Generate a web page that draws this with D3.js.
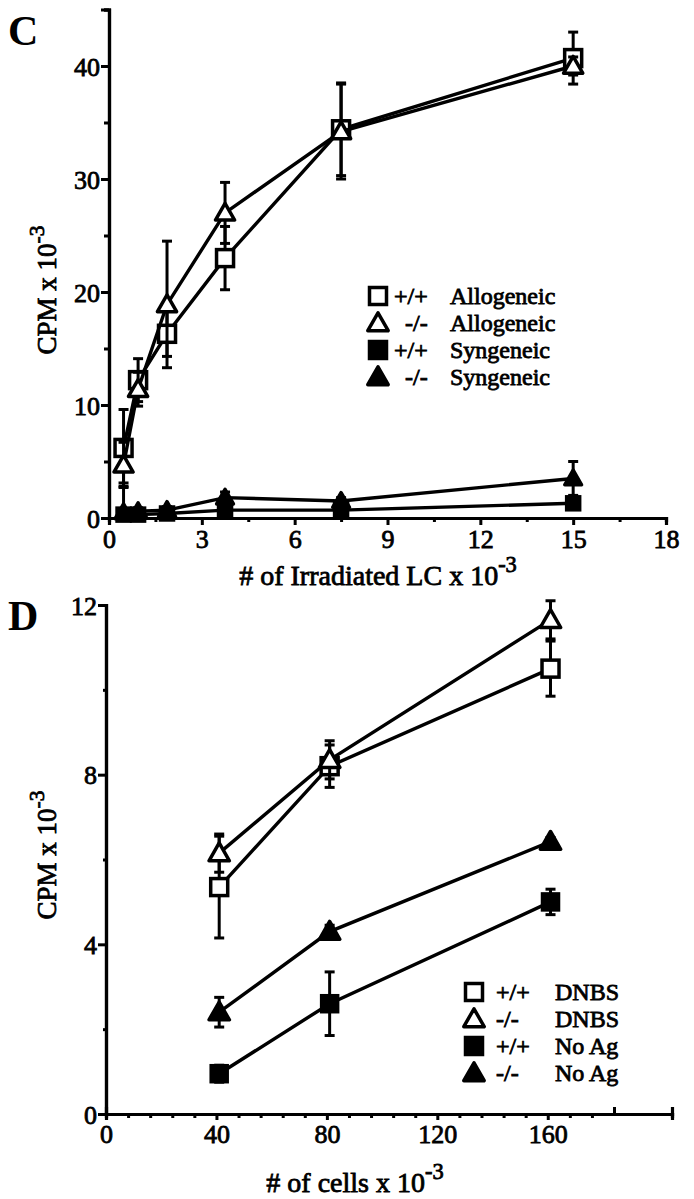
<!DOCTYPE html>
<html><head><meta charset="utf-8">
<script src="https://cdn.jsdelivr.net/npm/d3@7/dist/d3.min.js"></script>
<style>
html,body{margin:0;padding:0;background:#fff;}
svg{display:block;}
text{font-family:"Liberation Serif","Times New Roman",serif;fill:#000;}
</style></head>
<body>
<svg id="c" width="694" height="1199"></svg>
<script>
// ---------- Panel C data ----------
const cX = [0.47, 0.94, 1.875, 3.75, 7.5, 15];
const cXTicks = [0, 3, 6, 9, 12, 15, 18];
const cYTicks = [0, 10, 20, 30, 40];
const alloWT = [6.2, 12.2, 16.3, 23.0, 34.4, 40.7];
const alloWTErr = [3.4, 1.9, 2.0, 2.8, 4.1, 2.3];
const alloKO = [4.7, 11.4, 18.9, 27.0, 34.2, 40.0];
const alloKOErr = [2.0, 1.5, 5.6, 2.7, 4.2, 0.8];
const synWT = [0.3, 0.3, 0.4, 0.7, 0.7, 1.3];
const synWTErr = [0.3, 0.2, 0.3, 0.3, 0.3, 0.3];
const synKO = [0.5, 0.6, 0.7, 1.8, 1.5, 3.5];
const synKOErr = [2.6, 0.3, 0.3, 0.5, 0.3, 1.5];
const cLegendGeno = ["+/+", "-/-", "+/+", "-/-"];
const cLegendLabel = ["Allogeneic", "Allogeneic", "Syngeneic", "Syngeneic"];

// ---------- Panel D data ----------
const dX = [41, 81, 161];
const dXTicks = [0, 40, 80, 120, 160];
const dYTicks = [0, 4, 8, 12];
const dnbsWT = [5.35, 8.2, 10.5];
const dnbsWTErr = [1.2, 0.5, 0.65];
const dnbsKO = [6.15, 8.35, 11.65];
const dnbsKOErr = [0.45, 0.45, 0.45];
const noAgWT = [0.95, 2.6, 5.0];
const noAgWTErr = [0.2, 0.75, 0.3];
const noAgKO = [2.4, 4.3, 6.42];
const noAgKOErr = [0.35, 0.15, 0.1];
const dLegendGeno = ["+/+", "-/-", "+/+", "-/-"];
const dLegendLabel = ["DNBS", "DNBS", "No Ag", "No Ag"];

const svg = d3.select("#c");
const TXT_STROKE = 0.8;

function marker(g, type, x, y, s) {
  const open = type.startsWith("open");
  if (type.endsWith("square")) {
    g.append("rect").attr("x", x - s/2).attr("y", y - s/2).attr("width", s).attr("height", s)
      .attr("fill", open ? "#fff" : "#000").attr("stroke", "#000").attr("stroke-width", 3.5);
  } else {
    g.append("path").attr("d", `M${x},${y - s*0.6}L${x + s*0.6},${y + s*0.45}L${x - s*0.6},${y + s*0.45}Z`)
      .attr("fill", open ? "#fff" : "#000").attr("stroke", "#000").attr("stroke-width", 3.5)
      .attr("stroke-linejoin", "round");
  }
}

function series(g, xs, ys, errs, x, y, type, s) {
  const line = d3.line().x((d, i) => x(xs[i])).y(d => y(d));
  g.append("path").attr("d", line(ys)).attr("fill", "none").attr("stroke", "#000").attr("stroke-width", 3.4);
  ys.forEach((v, i) => {
    const cx = x(xs[i]);
    const y1 = y(v + errs[i]), y0 = y(Math.max(0, v - errs[i]));
    g.append("line").attr("x1", cx).attr("x2", cx).attr("y1", y1).attr("y2", y0).attr("stroke", "#000").attr("stroke-width", 3);
    [y1, y0].forEach(yy => g.append("line").attr("x1", cx - 5).attr("x2", cx + 5).attr("y1", yy).attr("y2", yy).attr("stroke", "#000").attr("stroke-width", 3));
  });
  ys.forEach((v, i) => marker(g, type, x(xs[i]), y(v), s));
}

function superTitle(g, x, y, main, sup, rotate, size) {
  const t = g.append("text").attr("font-size", size)
    .attr("transform", rotate ? `translate(${x},${y}) rotate(-90)` : `translate(${x},${y})`)
    .attr("text-anchor", "middle").attr("stroke", "#000").attr("stroke-width", TXT_STROKE);
  t.append("tspan").text(main);
  t.append("tspan").attr("dy", -size * 0.45).attr("font-size", size * 0.8).text(sup);
}

function styleAxes(g, yag) {
  g.selectAll(".domain").attr("stroke-width", 3.2).attr("stroke", "#000");
  g.selectAll(".tick line").attr("stroke-width", 3).attr("stroke", "#000");
  g.selectAll(".tick text").attr("font-family", "Liberation Serif").attr("font-size", 26).attr("fill", "#000")
    .attr("stroke", "#000").attr("stroke-width", TXT_STROKE);
  yag.selectAll(".tick text").attr("x", -9).attr("dy", "0.35em");
}

function legend(g, gx, tx1, tx2, lx, y0, dy, genos, labels, fs) {
  const types = ["open-square", "open-triangle", "filled-square", "filled-triangle"];
  types.forEach((t, i) => {
    const cy = y0 + i * dy;
    marker(g, t, gx, cy, 17);
    g.append("text").attr("x", i % 2 ? tx2 : tx1).attr("y", cy + 8).attr("font-size", fs)
      .attr("stroke", "#000").attr("stroke-width", TXT_STROKE).text(genos[i]);
    g.append("text").attr("x", lx).attr("y", cy + 8).attr("font-size", fs)
      .attr("stroke", "#000").attr("stroke-width", TXT_STROKE).text(labels[i]);
  });
}

// ================= Panel C =================
{
  const x = d3.scaleLinear().domain([0, 18]).range([109, 666]);
  const y = d3.scaleLinear().domain([0, 45]).range([518, 9.5]);
  const g = svg.append("g");

  const ya = d3.axisLeft(y).tickValues(cYTicks).tickSize(8).tickFormat(d3.format("d"));
  const yag = g.append("g").attr("transform", `translate(${x(0)},0)`).call(ya);
  const ym = d3.axisLeft(y).tickValues([5, 15, 25, 35, 45]).tickSize(5).tickFormat("");
  g.append("g").attr("transform", `translate(${x(0)},0)`).call(ym);
  const xa = d3.axisBottom(x).tickValues(cXTicks).tickSize(7).tickFormat(d3.format("d"));
  const xag = g.append("g").attr("transform", `translate(0,${y(0)})`).call(xa);
  const xm = d3.axisBottom(x).tickValues([1.5, 4.5, 7.5, 10.5, 13.5, 16.5]).tickSize(4).tickFormat("");
  g.append("g").attr("transform", `translate(0,${y(0)})`).call(xm);
  styleAxes(g, yag);
  xag.selectAll(".tick text").attr("y", 12);

  series(g, cX, synWT, synWTErr, x, y, "filled-square", 13);
  series(g, cX, synKO, synKOErr, x, y, "filled-triangle", 14);
  series(g, cX, alloWT, alloWTErr, x, y, "open-square", 17);
  series(g, cX, alloKO, alloKOErr, x, y, "open-triangle", 16);

  g.append("text").attr("x", 8).attr("y", 45).attr("font-size", 42).attr("font-weight", "bold").text("C");
  superTitle(g, 56, 290, "CPM x 10", "-3", true, 27);
  superTitle(g, 378, 585, "# of Irradiated LC x 10", "-3", false, 28);

  legend(g.append("g"), 378, 394, 405, 450, 296, 27, cLegendGeno, cLegendLabel, 24);
}

// ================= Panel D =================
{
  const x = d3.scaleLinear().domain([0, 205]).range([106, 672]);
  const y = d3.scaleLinear().domain([0, 12]).range([1114, 605]);
  const g = svg.append("g");

  const ya = d3.axisLeft(y).tickValues(dYTicks).tickSize(8).tickFormat(d3.format("d"));
  const yag = g.append("g").attr("transform", `translate(${x(0)},0)`).call(ya);
  const ym = d3.axisLeft(y).tickValues([2, 6, 10]).tickSize(3).tickFormat("");
  g.append("g").attr("transform", `translate(${x(0)},0)`).call(ym);
  const xa = d3.axisBottom(x).tickValues(dXTicks).tickSize(6).tickFormat(d3.format("d"));
  const xag = g.append("g").attr("transform", `translate(0,${y(0)})`).call(xa);
  const minor = d3.range(8, 177, 8).filter(v => v % 40 !== 0);
  const xm = d3.axisBottom(x).tickValues(minor).tickSize(4).tickFormat("");
  g.append("g").attr("transform", `translate(0,${y(0)})`).call(xm);
  const xu = d3.axisTop(x).tickValues([184]).tickSize(7).tickFormat("");
  g.append("g").attr("transform", `translate(0,${y(0)})`).call(xu);
  styleAxes(g, yag);
  xag.selectAll(".tick text").attr("y", 11);

  series(g, dX, noAgWT, noAgWTErr, x, y, "filled-square", 16);
  series(g, dX, noAgKO, noAgKOErr, x, y, "filled-triangle", 17);
  series(g, dX, dnbsWT, dnbsWTErr, x, y, "open-square", 17);
  series(g, dX, dnbsKO, dnbsKOErr, x, y, "open-triangle", 17);

  g.append("text").attr("x", 8).attr("y", 630).attr("font-size", 42).attr("font-weight", "bold").text("D");
  superTitle(g, 56, 855, "CPM x 10", "-3", true, 27);
  superTitle(g, 355, 1192, "# of cells x 10", "-3", false, 28);

  legend(g.append("g"), 474, 496, 496, 555, 992, 27, dLegendGeno, dLegendLabel, 24);
}
</script>
</body></html>
